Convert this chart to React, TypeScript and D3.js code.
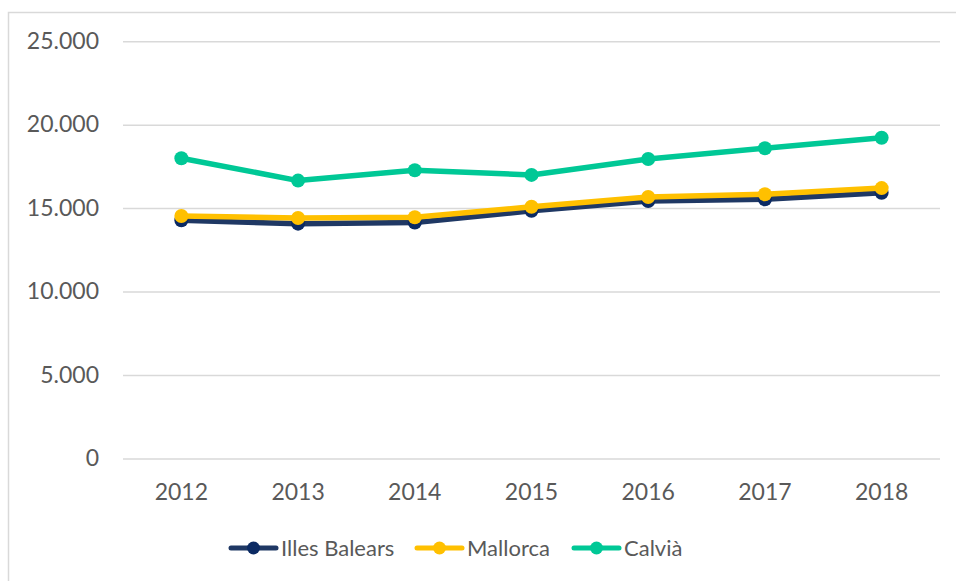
import React from 'react'
import * as d3 from 'd3'

const years = ['2012', '2013', '2014', '2015', '2016', '2017', '2018']
const illesBalears = [14300, 14100, 14170, 14870, 15450, 15560, 15950]
const mallorca = [14560, 14440, 14480, 15110, 15700, 15860, 16230]
const calvia = [18020, 16680, 17300, 17020, 17970, 18620, 19250]
const yTicks = [0, 5000, 10000, 15000, 20000, 25000]

const series = [
	{ name: 'Illes Balears', values: illesBalears, line: '#1f3864', dot: '#0b2a63' },
	{ name: 'Mallorca', values: mallorca, line: '#ffc000', dot: '#ffc000' },
	{ name: 'Calvià', values: calvia, line: '#00c896', dot: '#00c896' },
]

const W = 956
const H = 581
const font = 'Lato, "Open Sans", sans-serif'
const grey = '#595959'

const fmt = (v: number) => d3.format(',')(v).replace(/,/g, '.')

export default function App() {
	const x = d3.scalePoint<string>().domain(years).range([123, 940]).padding(0.5)
	const y = d3.scaleLinear().domain([0, 25000]).range([459, 41.7])
	const line = d3
		.line<number>()
		.x((_, i) => x(years[i]) as number)
		.y((d) => y(d))

	// legend layout
	const legendX = [229, 415, 572]
	const legendY = 548

	return (
		<svg
			width={W}
			height={H}
			style={{ position: 'absolute', left: 0, top: 0, background: '#fff' }}
			fontFamily={font}
		>
			<rect x={8.5} y={12.5} width={W} height={H} fill="#fff" stroke="#d9d9d9" strokeWidth={1.5} />

			{yTicks.map((t) => (
				<g key={t}>
					<line x1={123} x2={940} y1={y(t)} y2={y(t)} stroke="#d9d9d9" strokeWidth={1.5} />
					<text x={99} y={y(t) + 7} textAnchor="end" fontSize={23} fill={grey}>
						{fmt(t)}
					</text>
				</g>
			))}

			{years.map((yr) => (
				<text key={yr} x={x(yr)} y={500} textAnchor="middle" fontSize={23} fill={grey}>
					{yr}
				</text>
			))}

			{series.map((s) => (
				<g key={s.name}>
					<path d={line(s.values) || ''} fill="none" stroke={s.line} strokeWidth={5.5} strokeLinejoin="round" />
					{s.values.map((v, i) => (
						<circle key={i} cx={x(years[i])} cy={y(v)} r={7} fill={s.dot} />
					))}
				</g>
			))}

			{series.map((s, i) => (
				<g key={s.name} transform={`translate(${legendX[i]}, ${legendY})`}>
					<line x1={2} x2={47} y1={0} y2={0} stroke={s.line} strokeWidth={5} strokeLinecap="round" />
					<circle cx={24.5} cy={0} r={6.5} fill={s.dot} />
					<text x={52} y={8} fontSize={22} fill={grey}>
						{s.name}
					</text>
				</g>
			))}
		</svg>
	)
}
